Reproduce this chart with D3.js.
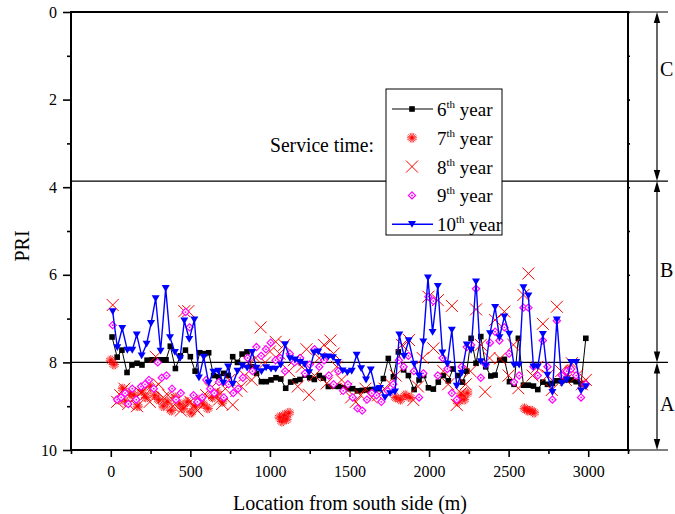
<!DOCTYPE html>
<html>
<head>
<meta charset="utf-8">
<script src="https://cdn.jsdelivr.net/npm/d3@7"></script>
<style>
  body { margin: 0; background: #fff; }
  svg { display: block; font-family: 'Liberation Serif', 'Times New Roman', serif; }
</style>
</head>
<body>
<svg></svg>
<script>
let width = 675
let height = 514

let xTicks = [0, 500, 1000, 1500, 2000, 2500, 3000]
let yTicks = [0, 2, 4, 6, 8, 10]
let seriesNames = ['6', '7', '8', '9', '10']
let zoneBounds = [0, 3.86, 8, 10]
let zoneNames = ['C', 'B', 'A']
let zoneLabelAt = [1.3, 5.9, 8.95]

// [location (m), PRI]
let year6 = [
  [8, 7.42], [40, 7.88], [70, 7.72], [102, 8.23], [133, 8.06], [165, 8.02], [196, 8.06], [228, 7.95],
  [259, 7.94], [291, 7.94], [318, 7.94], [347, 7.94], [374, 7.63], [406, 8.14], [437, 7.85], [469, 7.72],
  [500, 7.87], [530, 8.2], [559, 7.78], [590, 7.8], [615, 7.78], [646, 8.3], [678, 8.33], [708, 8.25],
  [737, 8.3], [766, 7.87], [796, 8.0], [825, 7.81], [856, 7.76], [887, 8.1], [916, 8.25], [946, 8.44],
  [977, 8.44], [1007, 8.4], [1038, 8.35], [1068, 8.38], [1099, 8.59], [1130, 8.45], [1160, 8.42], [1189, 8.39],
  [1221, 8.29], [1250, 8.35], [1279, 8.39], [1310, 8.3], [1336, 8.36], [1367, 8.55], [1399, 8.54], [1430, 8.55],
  [1460, 8.58], [1490, 8.6], [1520, 8.6], [1550, 8.65], [1580, 8.64], [1610, 8.63], [1640, 8.62], [1683, 8.6],
  [1713, 8.37], [1744, 7.91], [1776, 8.33], [1807, 7.76], [1840, 8.17], [1870, 8.3], [1906, 8.62], [1937, 8.4],
  [1966, 8.3], [1996, 8.58], [2027, 8.61], [2058, 8.45], [2090, 8.3], [2121, 8.42], [2150, 8.15], [2180, 8.3],
  [2210, 8.45], [2237, 8.2], [2264, 7.45], [2295, 8.02], [2325, 7.41], [2356, 8.1], [2388, 8.31], [2415, 8.29],
  [2444, 7.95], [2473, 7.93], [2505, 8.44], [2534, 8.5], [2561, 7.45], [2593, 8.52], [2624, 8.52], [2656, 8.54],
  [2683, 8.62], [2715, 8.45], [2744, 8.5], [2775, 8.48], [2803, 8.42], [2834, 8.42], [2865, 8.4], [2893, 8.4],
  [2924, 8.44], [2955, 8.49], [2985, 7.45]
]

let year7 = [
  [0, 7.95], [20, 8.05], [50, 8.85], [75, 8.6], [95, 8.9], [120, 8.7], [145, 8.75], [170, 9.0],
  [195, 8.65], [220, 8.8], [250, 8.55], [275, 8.75], [300, 8.85], [330, 9.0], [355, 8.9], [380, 9.1],
  [405, 8.8], [430, 8.95], [455, 9.05], [480, 8.9], [505, 9.15], [530, 9.0], [555, 8.85], [580, 8.95],
  [610, 9.05], [640, 8.8], [670, 8.7], [700, 8.9], [1060, 9.25], [1075, 9.35], [1090, 9.2], [1105, 9.3],
  [1120, 9.15], [1790, 8.8], [1820, 8.85], [1850, 8.75], [1880, 8.8], [2180, 8.9], [2200, 8.75], [2220, 8.85],
  [2240, 8.7], [2600, 9.05], [2620, 9.1], [2640, 9.1], [2660, 9.15], [2855, 8.3], [2880, 8.15], [2975, 8.5]
]

let year8 = [
  [12, 6.69], [40, 8.9], [60, 8.75], [85, 8.6], [110, 8.95], [140, 8.85], [165, 9.0], [190, 8.7],
  [215, 8.75], [245, 8.9], [270, 8.6], [282, 7.87], [300, 8.5], [330, 8.8], [360, 8.75], [390, 9.0],
  [415, 8.85], [440, 9.1], [462, 6.83], [487, 6.83], [500, 8.9], [520, 9.0], [545, 9.1], [570, 8.9],
  [600, 8.75], [625, 8.6], [650, 8.7], [680, 8.85], [700, 8.95], [720, 8.6], [745, 8.4], [766, 8.97],
  [790, 8.65], [820, 8.55], [842, 8.3], [870, 8.0], [885, 8.4], [910, 7.9], [942, 7.2], [970, 8.0],
  [1000, 7.75], [1036, 7.53], [1060, 7.8], [1090, 7.6], [1120, 8.2], [1150, 7.95], [1175, 8.55], [1200, 8.1],
  [1230, 7.7], [1246, 8.74], [1280, 8.3], [1310, 7.9], [1340, 7.6], [1357, 8.48], [1380, 7.5], [1400, 7.8],
  [1420, 8.1], [1450, 8.4], [1480, 8.6], [1510, 8.8], [1540, 8.9], [1570, 8.75], [1600, 8.6], [1640, 8.8],
  [1680, 8.75], [1720, 8.6], [1760, 8.5], [1790, 8.3], [1830, 7.6], [1874, 7.49], [1901, 8.86], [1930, 8.55],
  [1960, 7.9], [1996, 6.5], [2027, 7.68], [2055, 6.58], [2090, 8.2], [2120, 8.5], [2143, 6.71], [2174, 8.97],
  [2200, 8.7], [2230, 8.5], [2260, 8.2], [2295, 6.79], [2325, 7.6], [2352, 8.67], [2380, 7.9], [2415, 7.03],
  [2446, 7.91], [2473, 6.84], [2500, 8.3], [2530, 7.6], [2561, 8.59], [2593, 6.46], [2624, 5.97], [2650, 8.3],
  [2680, 8.1], [2715, 7.12], [2745, 8.3], [2771, 8.63], [2803, 6.73], [2830, 8.2], [2860, 8.4], [2897, 8.02],
  [2930, 8.3], [2960, 8.5], [2985, 8.4]
]

let year9 = [
  [12, 7.15], [40, 8.85], [65, 8.8], [90, 8.7], [110, 8.95], [135, 8.6], [160, 8.85], [190, 8.55],
  [215, 8.5], [240, 8.4], [270, 8.6], [295, 8.0], [320, 8.35], [350, 8.3], [385, 8.6], [410, 8.85],
  [440, 8.7], [470, 6.85], [495, 7.2], [520, 8.75], [545, 8.9], [575, 8.8], [600, 8.4], [625, 8.6],
  [650, 8.7], [680, 8.45], [710, 8.8], [740, 8.5], [770, 8.7], [800, 8.6], [830, 8.35], [860, 7.9],
  [890, 8.2], [915, 7.65], [945, 7.85], [975, 7.7], [1005, 7.55], [1035, 7.95], [1065, 7.9], [1095, 8.2],
  [1125, 7.8], [1155, 8.0], [1190, 7.9], [1220, 8.25], [1250, 8.05], [1280, 7.7], [1310, 8.1], [1340, 7.95],
  [1370, 8.3], [1400, 8.5], [1430, 8.2], [1460, 8.65], [1490, 8.5], [1520, 8.8], [1550, 9.05], [1580, 9.1],
  [1610, 8.85], [1640, 8.7], [1670, 8.75], [1700, 8.9], [1740, 8.65], [1775, 8.5], [1810, 7.95], [1840, 8.1],
  [1870, 7.85], [1905, 8.2], [1937, 8.8], [1964, 8.25], [1996, 6.5], [2027, 6.6], [2055, 8.3], [2085, 7.9],
  [2115, 8.15], [2143, 8.7], [2174, 8.85], [2205, 8.1], [2237, 7.65], [2264, 7.6], [2295, 6.32], [2325, 8.35],
  [2356, 8.05], [2383, 7.55], [2415, 7.3], [2442, 7.5], [2473, 7.2], [2503, 7.8], [2534, 8.45], [2566, 8.3],
  [2593, 6.75], [2624, 6.75], [2656, 8.1], [2683, 8.3], [2715, 7.5], [2744, 8.1], [2775, 8.85], [2803, 7.05],
  [2834, 8.3], [2865, 8.2], [2893, 8.15], [2924, 8.3], [2955, 8.8], [2985, 8.5]
]

let year10 = [
  [12, 6.84], [41, 7.66], [72, 7.22], [104, 7.72], [135, 7.72], [163, 7.37], [194, 7.85], [225, 7.58],
  [253, 7.11], [282, 6.54], [313, 7.74], [345, 6.31], [372, 7.43], [403, 7.77], [435, 7.91], [462, 7.05],
  [493, 7.47], [525, 7.03], [554, 8.35], [584, 7.88], [615, 8.47], [645, 8.22], [676, 8.2], [707, 8.47],
  [737, 8.1], [766, 8.5], [796, 8.2], [826, 8.08], [857, 8.13], [889, 7.77], [916, 8.13], [947, 8.21],
  [976, 8.12], [1007, 8.15], [1036, 8.15], [1068, 8.06], [1095, 7.59], [1126, 7.91], [1158, 7.94], [1189, 8.0],
  [1216, 8.04], [1246, 8.23], [1277, 7.78], [1304, 7.76], [1336, 7.87], [1367, 7.87], [1396, 7.89], [1426, 8.0],
  [1457, 8.19], [1487, 8.23], [1514, 8.2], [1545, 7.83], [1573, 8.14], [1604, 8.4], [1634, 8.17], [1665, 8.63],
  [1692, 8.59], [1723, 8.8], [1755, 8.71], [1786, 8.67], [1813, 7.37], [1843, 7.86], [1872, 7.5], [1906, 8.04],
  [1937, 8.31], [1964, 7.53], [1993, 6.07], [2022, 7.31], [2055, 6.26], [2084, 7.78], [2115, 8.04], [2143, 7.26],
  [2174, 8.54], [2205, 8.25], [2237, 7.6], [2264, 7.72], [2295, 6.16], [2325, 7.98], [2356, 8.08], [2383, 7.34],
  [2415, 6.74], [2442, 7.43], [2473, 6.96], [2503, 7.35], [2534, 8.06], [2566, 8.06], [2593, 6.29], [2624, 6.48],
  [2656, 8.1], [2683, 8.1], [2715, 7.36], [2744, 8.29], [2775, 8.68], [2803, 7.03], [2834, 8.48], [2865, 8.4],
  [2893, 8.0], [2924, 8.0], [2955, 8.65], [2985, 8.55]
]

let svg = d3.select('svg')
            .attr('width', width)
            .attr('height', height)

let xScale = d3.scaleLinear().domain([-250, 3250]).range([71, 628])
let yScale = d3.scaleLinear().domain([0, 10]).range([12, 450])

let shapes = {
  square: 'M-2.8,-2.8h5.6v5.6h-5.6z',
  star: 'M-5,0H5M0,-5V5M-3.5,-3.5L3.5,3.5M-3.5,3.5L3.5,-3.5M-1.9,-4.6L1.9,4.6M1.9,-4.6L-1.9,4.6M-4.6,-1.9L4.6,1.9M-4.6,1.9L4.6,-1.9',
  cross: 'M-6,-6L6,6M-6,6L6,-6',
  diamond: 'M0,-3.6L3.6,0L0,3.6L-3.6,0z',
  tri: 'M-4,-3.3L4,-3.3L0,3.5z'
}

let series = [
  { data: year6, shape: 'square', color: '#000000', line: 1, fill: '#000000', sw: 0 },
  { data: year7, shape: 'star', color: '#ff0000', line: 0, fill: 'none', sw: 0.8 },
  { data: year8, shape: 'cross', color: '#ff0000', line: 0, fill: 'none', sw: 1 },
  { data: year9, shape: 'diamond', color: '#ff00ff', line: 0, fill: '#ffffff', sw: 1.2 },
  { data: year10, shape: 'tri', color: '#0000ff', line: 1.4, fill: '#0000ff', sw: 0 }
]

let drawMarker = (g, s, x, y) => {
  g.append('path')
   .attr('d', shapes[s.shape])
   .attr('transform', 'translate(' + x + ',' + y + ')')
   .attr('fill', s.fill)
   .attr('stroke', s.sw ? s.color : 'none')
   .attr('stroke-width', s.sw)
  if (s.shape == 'diamond') {
    g.append('circle')
     .attr('cx', x).attr('cy', y).attr('r', 0.9)
     .attr('fill', s.color)
  }
}

let drawZones = () => {
  let g = svg.append('g')
  zoneBounds.forEach((b) => {
    g.append('line')
     .attr('x1', xScale(-250)).attr('x2', 668)
     .attr('y1', yScale(b)).attr('y2', yScale(b))
     .attr('stroke', '#000').attr('stroke-width', 1.2)
  })
  zoneNames.forEach((name, i) => {
    let y0 = yScale(zoneBounds[i])
    let y1 = yScale(zoneBounds[i + 1])
    g.append('line')
     .attr('x1', 657).attr('x2', 657)
     .attr('y1', y0 + 4).attr('y2', y1 - 4)
     .attr('stroke', '#000').attr('stroke-width', 1.2)
    g.append('path')
     .attr('d', 'M657,' + y0 + 'l-3.2,11h6.4z')
     .attr('fill', '#000')
    g.append('path')
     .attr('d', 'M657,' + y1 + 'l-3.2,-11h6.4z')
     .attr('fill', '#000')
    g.append('text')
     .attr('x', 660)
     .attr('y', yScale(zoneLabelAt[i]) + 7)
     .attr('font-size', 20)
     .text(name)
  })
}

let drawSeries = () => {
  let plot = svg.append('g')
  series.forEach((s) => {
    if (s.line) {
      let line = d3.line()
                   .x((d) => xScale(d[0]))
                   .y((d) => yScale(d[1]))
      plot.append('path')
          .datum(s.data)
          .attr('d', line)
          .attr('fill', 'none')
          .attr('stroke', s.color)
          .attr('stroke-width', s.line)
    }
    let mg = plot.append('g')
    s.data.forEach((d) => {
      drawMarker(mg, s, xScale(d[0]), yScale(d[1]))
    })
  })
}

let drawAxes = () => {
  let yAxis = d3.axisLeft(yScale).tickValues(yTicks).tickSize(8).tickPadding(6)
  let yMinor = d3.axisLeft(yScale).tickValues(d3.range(1, 10, 2)).tickSize(4).tickFormat('')
  let yRight = d3.axisRight(yScale).tickValues(d3.range(0, 11, 1)).tickSize(2).tickFormat('')
  let xAxis = d3.axisBottom(xScale).tickValues(xTicks).tickSize(7).tickPadding(9)
                .tickFormat(d3.format('d'))
  let xMinor = d3.axisBottom(xScale).tickValues(d3.range(-250, 3251, 500)).tickSize(4).tickFormat('')

  let axes = [
    [yAxis, 'translate(71,0)'],
    [yMinor, 'translate(71,0)'],
    [yRight, 'translate(628,0)'],
    [xAxis, 'translate(0,450)'],
    [xMinor, 'translate(0,450)']
  ]
  axes.forEach((a) => {
    let g = svg.append('g')
               .attr('transform', a[1])
               .call(a[0])
    g.select('.domain').remove()
    g.selectAll('line').attr('stroke', '#000').attr('stroke-width', 1.6)
    g.selectAll('text')
     .attr('fill', '#000')
     .attr('font-size', 16)
     .attr('font-family', "'Liberation Serif', serif")
  })

  svg.append('rect')
     .attr('x', 71).attr('y', 12)
     .attr('width', 557).attr('height', 438)
     .attr('fill', 'none')
     .attr('stroke', '#000')
     .attr('stroke-width', 2)

  svg.append('text')
     .attr('transform', 'translate(29,246) rotate(-90)')
     .attr('text-anchor', 'middle')
     .attr('font-size', 20)
     .text('PRI')

  svg.append('text')
     .attr('x', 350).attr('y', 510)
     .attr('text-anchor', 'middle')
     .attr('font-size', 20)
     .attr('textLength', 234)
     .text('Location from south side (m)')
}

let drawLegend = () => {
  svg.append('text')
     .attr('x', 270).attr('y', 152)
     .attr('font-size', 20)
     .attr('textLength', 104)
     .attr('lengthAdjust', 'spacingAndGlyphs')
     .text('Service time:')

  let lg = svg.append('g')
  lg.append('rect')
    .attr('x', 386).attr('y', 89)
    .attr('width', 116).attr('height', 146)
    .attr('fill', '#fff')
    .attr('stroke', '#000')
    .attr('stroke-width', 1)

  series.forEach((s, i) => {
    let y = 109 + i * 28.8
    if (s.line) {
      lg.append('line')
        .attr('x1', 392).attr('x2', 433)
        .attr('y1', y).attr('y2', y)
        .attr('stroke', s.color)
        .attr('stroke-width', s.line)
    }
    drawMarker(lg, s, 412, y)
    let t = lg.append('text')
              .attr('x', 437).attr('y', y + 7)
              .attr('font-size', 19)
    t.append('tspan').text(seriesNames[i])
    t.append('tspan').attr('font-size', 11).attr('dy', -8).text('th')
    t.append('tspan').attr('dy', 8).text(' year')
  })
}

drawZones()
drawSeries()
drawAxes()
drawLegend()
</script>
</body>
</html>
